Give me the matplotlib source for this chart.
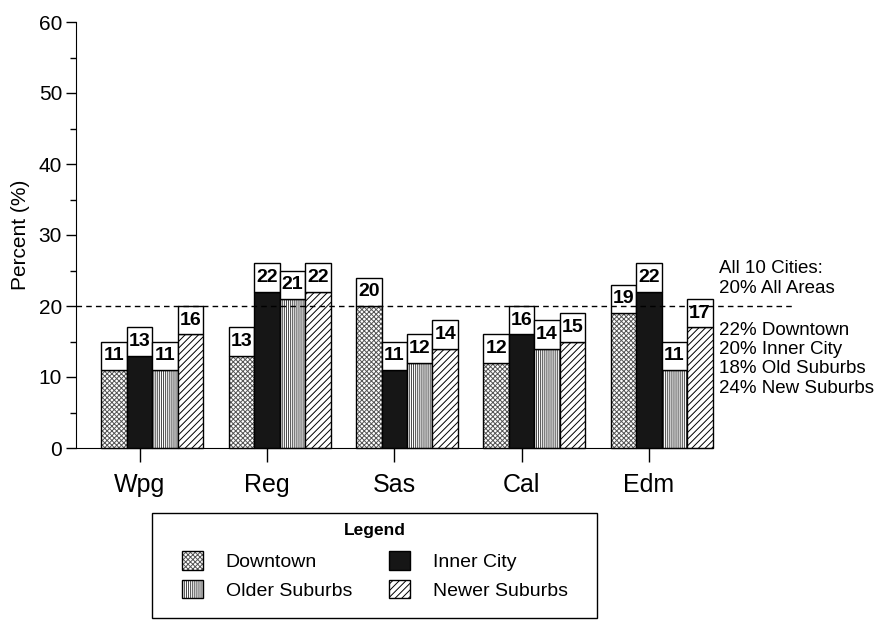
"""
Grouped bar chart: percent by city and area type, with value boxes on top.
"""

import matplotlib
matplotlib.use('Agg')
import matplotlib.pyplot as plt
from matplotlib.patches import Patch, Rectangle
from matplotlib.legend_handler import HandlerTuple
import numpy as np

plt.rcParams['font.family'] = ['Liberation Sans', 'DejaVu Sans']
plt.rcParams['hatch.linewidth'] = 0.7

# Data
cities = ["Wpg", "Reg", "Sas", "Cal", "Edm"]
areas = ["Downtown", "Inner City", "Older Suburbs", "Newer Suburbs"]
downtown = [11, 13, 20, 12, 19]
inner_city = [13, 22, 11, 16, 22]
older_suburbs = [11, 21, 12, 14, 11]
newer_suburbs = [16, 22, 14, 15, 17]
all_cities_avg = 20
summary_lines = ["22% Downtown", "20% Inner City", "18% Old Suburbs", "24% New Suburbs"]

series = [downtown, inner_city, older_suburbs, newer_suburbs]
# fill styles (hatch colour comes from edgecolor, outline drawn separately)
styles = [
    dict(facecolor='white', edgecolor='#555555', hatch='xxxxxxx'),
    dict(facecolor='#161616', edgecolor='#161616', hatch=None),
    dict(facecolor='white', edgecolor='#444444', hatch='||||||||'),
    dict(facecolor='white', edgecolor='black', hatch='/////'),
]

W, H = 883, 620
fig = plt.figure(figsize=(W / 100, H / 100), dpi=100)
ax = fig.add_axes([76 / W, 1 - 448 / H, 636.5 / W, 426 / H])

x = np.arange(len(cities))
width = 0.2
box_h = 4

for i, (vals, st) in enumerate(zip(series, styles)):
    xpos = x + (i - 1) * width
    ax.bar(xpos, vals, width, linewidth=0, clip_on=False, **st)
    ax.bar(xpos, vals, width, facecolor='none', edgecolor='black',
           linewidth=1, clip_on=False)
    # white label box sitting on top of each bar
    ax.bar(xpos, [box_h] * len(vals), width, bottom=vals,
           facecolor='white', edgecolor='black', linewidth=1, clip_on=False)
    for xp, v in zip(xpos, vals):
        ax.text(xp, v + box_h / 2, str(v), ha='center', va='center',
                fontsize=14, fontweight='bold')

# Reference line for all 10 cities
ax.axhline(all_cities_avg, xmin=0, xmax=(793 - 76) / 636.5, color='black',
           linestyle=(0, (4, 3)), linewidth=1, clip_on=False)

ax.text(4.55, 25.3, "All 10 Cities:", fontsize=13.5, va='center', ha='left')
ax.text(4.55, 22.5, f"{all_cities_avg}% All Areas", fontsize=13.5, va='center', ha='left')
for k, line in enumerate(summary_lines):
    ax.text(4.55, 16.6 - k * 2.72, line, fontsize=13.5, va='center', ha='left')

ax.set_xlim(-0.5, 4.5)
ax.set_ylim(0, 60)
ax.set_xticks(x)
ax.set_xticklabels(cities, fontsize=18)
ax.set_yticks(np.arange(0, 61, 10))
ax.set_yticks(np.arange(5, 60, 10), minor=True)
ax.tick_params(axis='y', labelsize=15, length=7, width=1, pad=3)
ax.tick_params(axis='y', which='minor', length=4, width=1)
ax.tick_params(axis='x', length=10, width=1, pad=8)
ax.set_ylabel("Percent (%)", fontsize=15, labelpad=6)

ax.spines['top'].set_visible(False)
ax.spines['right'].set_visible(False)

# Legend: frame and title drawn separately, entries row by row
fig.patches.append(Rectangle((152 / W, 1 - 618 / H), 445 / W, 105 / H,
                             transform=fig.transFigure, facecolor='none',
                             edgecolor='black', linewidth=1))
fig.text(375 / W, 1 - 530 / H, "Legend", fontsize=12.5, fontweight='bold',
         ha='center', va='center')
order = [0, 2, 1, 3]  # column-wise fill gives rows: Downtown/Inner, Older/Newer
handles = [(Patch(linewidth=0, **styles[k]),
            Patch(facecolor='none', edgecolor='black', linewidth=1))
           for k in order]
labels = [areas[k] for k in order]
fig.legend(handles, labels, ncol=2, fontsize=14, frameon=False,
           handler_map={tuple: HandlerTuple(ndivide=1)},
           loc='upper left', bbox_to_anchor=(182 / W, 1 - 551 / H),
           borderpad=0, borderaxespad=0,
           handlelength=1.1, handleheight=1.1, handletextpad=1.15,
           labelspacing=0.45, columnspacing=1.9)

fig.savefig("out.png", dpi=100)
